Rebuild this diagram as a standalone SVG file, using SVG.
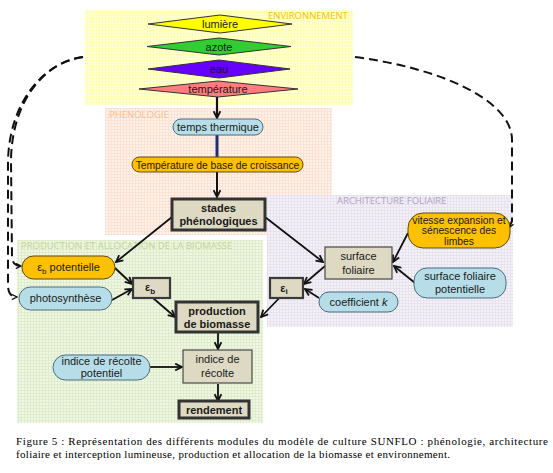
<svg xmlns="http://www.w3.org/2000/svg" width="553" height="473" viewBox="0 0 553 473">
<style>
text{font-family:"Liberation Sans",Arial,sans-serif;fill:#1a1a1a}
.t{font-size:11px;text-anchor:middle}
.tb{font-size:11px;text-anchor:middle;font-weight:bold}
.lab{font-size:9.5px;font-family:"Open Sans","Liberation Sans",sans-serif}
.cap{font-family:"Liberation Serif","Times New Roman",serif;font-size:11px;fill:#000}
.or{fill:#ffc000;stroke:#5a4a1a;stroke-width:1}
.bl{fill:#b7dee8;stroke:#4a6d80;stroke-width:1}
.bx1{fill:#ddd9c3;stroke:#4a4a4a;stroke-width:1.2}
.bx2{fill:#ddd9c3;stroke:#3a3a3a;stroke-width:2.2}
.bx3{fill:#ddd9c3;stroke:#333;stroke-width:3}
.dia{stroke:#333;stroke-width:1}
.c{fill:none;stroke:#111;stroke-width:1.8;marker-end:url(#ah)}
.d{fill:none;stroke:#111;stroke-width:2;stroke-dasharray:9,5;marker-end:url(#ahs)}
</style>
<defs>
<marker id="ah" viewBox="0 0 10 10" refX="9" refY="5" markerWidth="8.5" markerHeight="8.5" orient="auto" markerUnits="userSpaceOnUse">
<path d="M1,1 L9,5 L1,9" fill="none" stroke="#111" stroke-width="2.1"/>
</marker>
<marker id="ahs" viewBox="0 0 10 10" refX="9" refY="5" markerWidth="6.5" markerHeight="6.5" orient="auto" markerUnits="userSpaceOnUse">
<path d="M1,1 L9,5 L1,9" fill="none" stroke="#111" stroke-width="2"/>
</marker>
<pattern id="gY" width="3" height="3" patternUnits="userSpaceOnUse"><rect width="3" height="3" fill="#ffffda"/><path d="M0,0.5H3M0.5,0V3" stroke="#ffffb0" stroke-width="1"/></pattern>
<pattern id="gP" width="3" height="3" patternUnits="userSpaceOnUse"><rect width="3" height="3" fill="#fef2ea"/><path d="M0,0.5H3M0.5,0V3" stroke="#fce2d2" stroke-width="1"/></pattern>
<pattern id="gL" width="3" height="3" patternUnits="userSpaceOnUse"><rect width="3" height="3" fill="#f4f2f7"/><path d="M0,0.5H3M0.5,0V3" stroke="#e6e2ee" stroke-width="1"/></pattern>
<pattern id="gG" width="3" height="3" patternUnits="userSpaceOnUse"><rect width="3" height="3" fill="#f1f7e7"/><path d="M0,0.5H3M0.5,0V3" stroke="#dfecca" stroke-width="1"/></pattern>
</defs>
<rect width="553" height="473" fill="#fff"/>

<g id="regions">
<rect x="85" y="10" width="268" height="95" fill="url(#gY)"/>
<text class="lab" x="268" y="19" style="fill:#ffc000">ENVIRONNEMENT</text>
<rect x="105" y="108" width="227" height="127" fill="url(#gP)"/>
<text class="lab" x="109" y="118" style="fill:#fac090">PHENOLOGIE</text>
<rect x="267" y="195" width="246" height="132" fill="url(#gL)"/>
<text class="lab" x="337" y="204" style="fill:#b3a2c7">ARCHITECTURE FOLIAIRE</text>
<rect x="17" y="240" width="246" height="183" fill="url(#gG)"/>
<text class="lab" x="21" y="249" style="fill:#c3d69b">PRODUCTION ET ALLOCATION DE LA BIOMASSE</text>
</g>

<g id="connectors">
<line x1="217" y1="97" x2="217" y2="118" class="c" style="stroke-width:2.2"/>
<line x1="217" y1="135" x2="217" y2="157" stroke="#1f2f6e" stroke-width="3"/>
<line x1="217" y1="172" x2="217" y2="197" class="c" style="stroke-width:2"/>
<line x1="172" y1="217" x2="116" y2="262" class="c"/>
<line x1="265" y1="217" x2="323" y2="262" class="c"/>
<line x1="115" y1="268" x2="132" y2="284" class="c"/>
<line x1="112" y1="300" x2="132" y2="289" class="c"/>
<line x1="153" y1="298" x2="175" y2="317" class="c"/>
<line x1="287" y1="290" x2="261" y2="317" class="c"/>
<line x1="325" y1="266" x2="304" y2="284" class="c"/>
<line x1="319" y1="298" x2="305" y2="289" class="c"/>
<line x1="408" y1="233" x2="393" y2="262" class="c"/>
<line x1="415" y1="283" x2="394" y2="266" class="c"/>
<line x1="218" y1="333" x2="218" y2="349" class="c"/>
<line x1="150" y1="367" x2="182" y2="367" class="c"/>
<line x1="218" y1="384" x2="218" y2="401" class="c"/>
<path class="d" d="M83,57 C45,62 10,100 8,160 L8,285 Q8,297 17,297"/>
<path class="d" d="M83,57 C45,62 12,100 11,160 L12,258 Q13,266 21,266"/>
<path class="d" d="M355,57 C440,68 512,100 512,140 L512,221 L509,228"/>
</g>

<g id="lumiere"><polygon class="dia" points="148,24 220,15 292,24 220,33" fill="#ffff00"/><text class="t" x="220" y="28">lumière</text></g>
<g id="azote"><polygon class="dia" points="147,46.5 219,38 291,46.5 219,55" fill="#33cc33"/><text class="t" x="219" y="50.5">azote</text></g>
<g id="eau"><polygon class="dia" points="148,69 219,60 290,69 219,78" fill="#6600ff"/><text class="t" x="219" y="73">eau</text></g>
<g id="temperature"><polygon class="dia" points="139,89 218,81 298,89 218,97" fill="#ff7c80"/><text class="t" x="218" y="93">température</text></g>

<g id="temps-thermique"><rect class="bl" x="173" y="119" width="90" height="16" rx="8"/><text class="t" x="218" y="131">temps thermique</text></g>
<g id="temp-base"><rect class="or" x="132" y="157" width="171" height="15" rx="7.5"/><text class="t" x="217.5" y="168.5" style="font-size:10.3px">Température de base de croissance</text></g>
<g id="stades"><rect class="bx3" x="172" y="199" width="93" height="31"/><text class="tb" x="218.5" y="212">stades</text><text class="tb" x="218.5" y="225">phénologiques</text></g>

<g id="vitesse"><rect class="or" x="408" y="213" width="102" height="35" rx="15"/><text class="t" x="459" y="223.5" style="font-size:10.3px">vitesse expansion et</text><text class="t" x="459" y="234" style="font-size:10.3px">sénescence des</text><text class="t" x="459" y="244.5" style="font-size:10.3px">limbes</text></g>
<g id="surface-foliaire"><rect class="bx1" x="325" y="247" width="67" height="32"/><text class="t" x="358.5" y="260">surface</text><text class="t" x="358.5" y="274">foliaire</text></g>
<g id="surface-pot"><rect class="bl" x="414" y="268" width="92" height="30" rx="13"/><text class="t" x="460" y="280">surface foliaire</text><text class="t" x="460" y="293">potentielle</text></g>
<g id="eps-i"><rect class="bx2" x="270" y="278" width="33" height="20"/><text class="tb" x="284" y="292">ε<tspan dy="2" font-size="8">i</tspan></text></g>
<g id="coef-k"><rect class="bl" x="319" y="292" width="79" height="20" rx="10"/><text class="t" x="358.5" y="305.5">coefficient <tspan font-style="italic">k</tspan></text></g>

<g id="eps-b-pot"><rect class="or" x="22" y="256" width="93" height="23" rx="11.5"/><text class="t" x="68.5" y="271">ε<tspan dy="3" font-size="8">b</tspan><tspan dy="-3"> potentielle</tspan></text></g>
<g id="photosynthese"><rect class="bl" x="19" y="287" width="93" height="23" rx="11.5"/><text class="t" x="65.5" y="302">photosynthèse</text></g>
<g id="eps-b"><rect class="bx2" x="133" y="278" width="37" height="20"/><text class="tb" x="150" y="291">ε<tspan dy="3" font-size="8">b</tspan></text></g>
<g id="production"><rect class="bx3" x="176" y="302" width="82" height="30"/><text class="tb" x="217" y="315">production</text><text class="tb" x="217" y="328">de biomasse</text></g>
<g id="ir-pot"><rect class="bl" x="53" y="355" width="97" height="25" rx="12.5"/><text class="t" x="101.5" y="365">indice de récolte</text><text class="t" x="101.5" y="377">potentiel</text></g>
<g id="indice-recolte"><rect class="bx1" x="183" y="350" width="69" height="33"/><text class="t" x="217.5" y="363">indice de</text><text class="t" x="217.5" y="377">récolte</text></g>
<g id="rendement"><rect class="bx3" x="179" y="401" width="70" height="17"/><text class="tb" x="214" y="413.5">rendement</text></g>

<g id="caption">
<text class="cap" x="16" y="445" textLength="532" lengthAdjust="spacing">Figure 5 : Représentation des différents modules du modèle de culture SUNFLO : phénologie, architecture</text>
<text class="cap" x="16" y="458" textLength="434" lengthAdjust="spacing">foliaire et interception lumineuse, production et allocation de la biomasse et environnement.</text>
</g>
</svg>
